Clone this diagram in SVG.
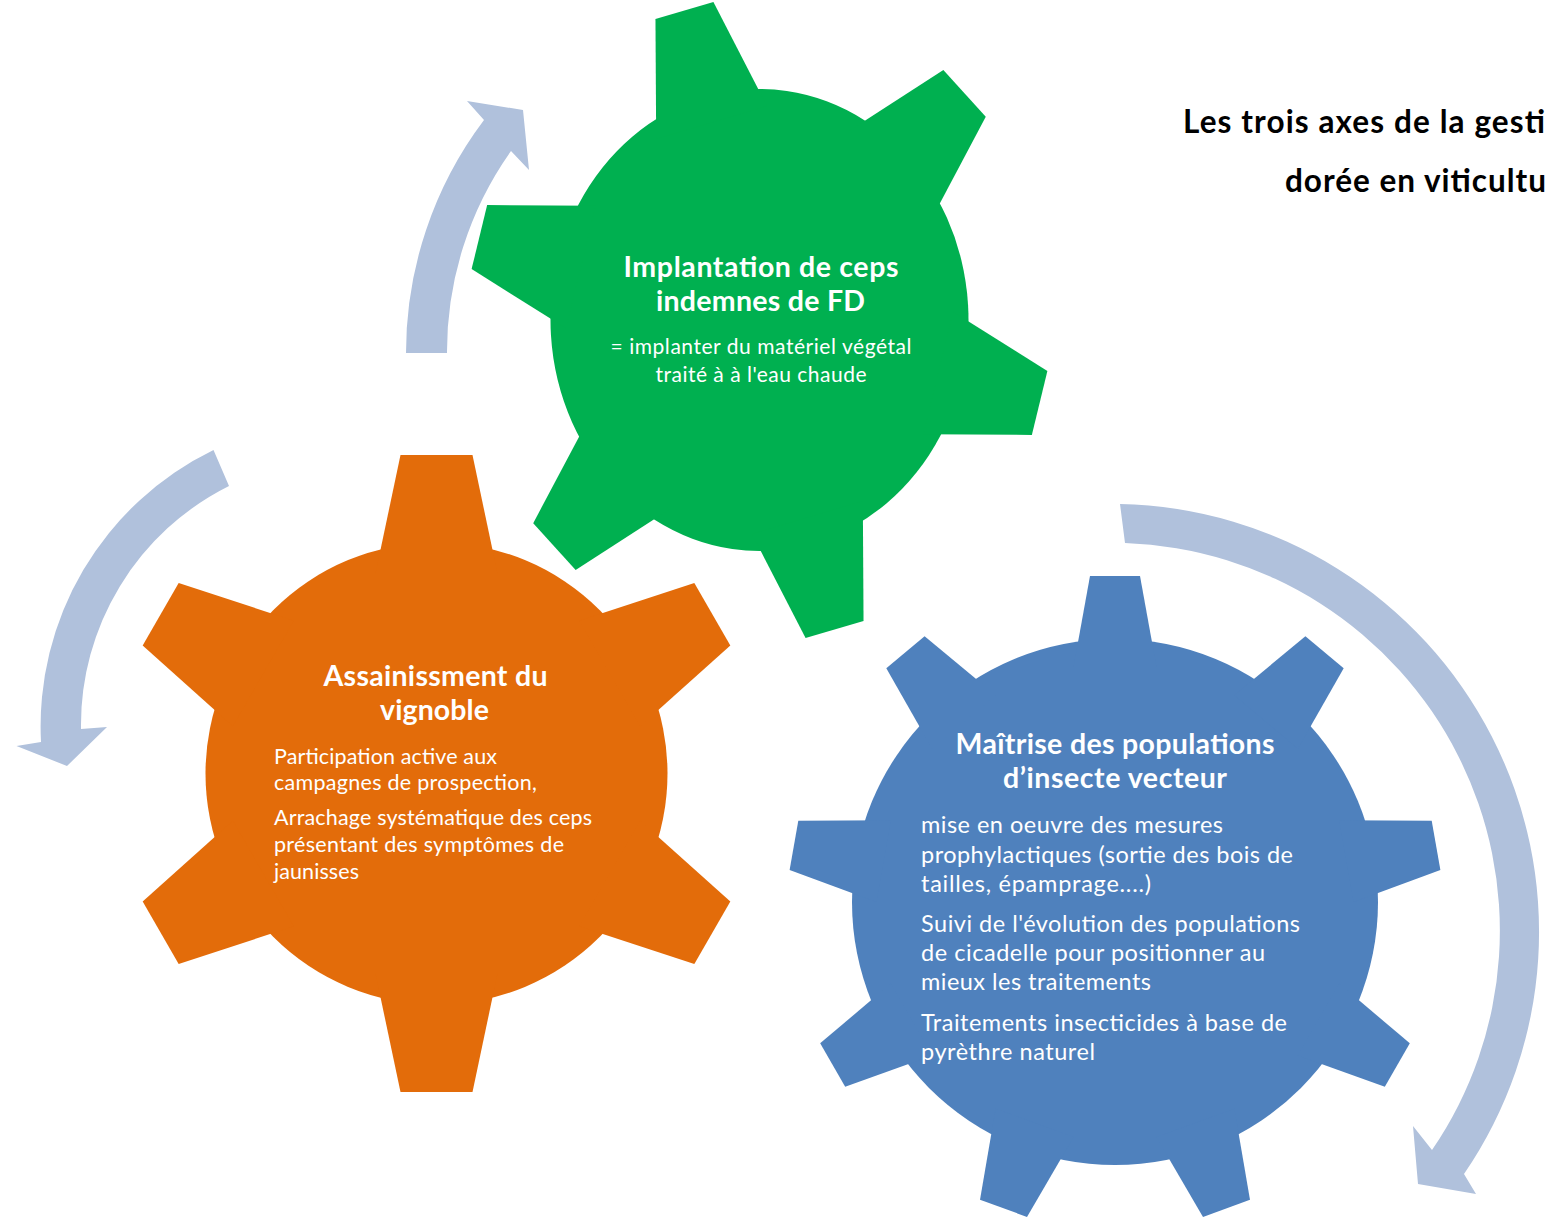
<svg xmlns="http://www.w3.org/2000/svg" width="1548" height="1220" viewBox="0 0 1548 1220">
<style>
.g-green{fill:#00B050}
.g-orange{fill:#E36C0A}
.g-blue{fill:#4F81BD}
.arrow{fill:#B0C1DC}
.h{font-family:Lato,"Open Sans","Liberation Sans",sans-serif;font-weight:700;font-size:28.5px;fill:#FFFFFF}
.b{font-family:Lato,"Open Sans","Liberation Sans",sans-serif;font-weight:400;fill:#FFFFFF}
.t{font-family:Lato,"Open Sans","Liberation Sans",sans-serif;font-weight:700;font-size:31.5px;fill:#000000}
.mid{text-anchor:middle}
</style>
<defs>
<polygon id="tooth-green" points="-57.4,-185 -30,-290 30,-290 57.4,-185"/>
<polygon id="tooth-orange" points="-61,-200 -36,-318.5 36,-318.5 61,-200"/>
<polygon id="tooth-blue" points="-41.5,-235 -25,-326 25,-326 41.5,-235"/>
</defs>
<rect x="0" y="0" width="1548" height="1220" fill="#FFFFFF"/>

<g id="connectors">
<path id="arrow-top" class="arrow" d="M406,353 A387,387 0 0 1 484,120 L467,101 L523,110 L529,170 L511,151 A346,346 0 0 0 447,353 Z"/>
<path id="arrow-left" class="arrow" d="M213.5,450 A307,307 0 0 0 41,742 L16.5,746 L67,766 L107,727 L81,729 A267,267 0 0 1 229,486 Z"/>
<path id="arrow-right" class="arrow" d="M1120,504 A428,428 0 0 1 1464,1174 L1476,1194 L1418,1184 L1413,1126 L1432,1150 A388,388 0 0 0 1125,543 Z"/>
</g>

<g id="node-implantation">
<g class="g-green" transform="translate(759.5,320) scale(1,1.105) rotate(-15)">
<circle cx="0" cy="0" r="209"/>
<use href="#tooth-green"/>
<use href="#tooth-green" transform="rotate(60)"/>
<use href="#tooth-green" transform="rotate(120)"/>
<use href="#tooth-green" transform="rotate(180)"/>
<use href="#tooth-green" transform="rotate(240)"/>
<use href="#tooth-green" transform="rotate(300)"/>
</g>
<text class="h mid" x="761" y="277" textLength="275">Implantation de ceps</text>
<text class="h mid" x="760.5" y="311" textLength="209">indemnes de FD</text>
<text class="b mid" x="761" y="354" font-size="21" textLength="301">= implanter du matériel végétal</text>
<text class="b mid" x="761" y="381.5" font-size="21" textLength="211">traité à à l'eau chaude</text>
</g>

<g id="node-assainissement">
<g class="g-orange" transform="translate(436.5,773.5)">
<circle cx="0" cy="0" r="231"/>
<use href="#tooth-orange"/>
<use href="#tooth-orange" transform="rotate(60)"/>
<use href="#tooth-orange" transform="rotate(120)"/>
<use href="#tooth-orange" transform="rotate(180)"/>
<use href="#tooth-orange" transform="rotate(240)"/>
<use href="#tooth-orange" transform="rotate(300)"/>
</g>
<text class="h mid" x="435.5" y="686" textLength="224">Assainissment du</text>
<text class="h mid" x="434.5" y="720" textLength="109">vignoble</text>
<text class="b" x="274" y="763.5" font-size="21.5" textLength="223">Participation active aux</text>
<text class="b" x="274" y="790" font-size="21.5" textLength="263">campagnes de prospection,</text>
<text class="b" x="274" y="825" font-size="21.5" textLength="318">Arrachage systématique des ceps</text>
<text class="b" x="274" y="852" font-size="21.5" textLength="290">présentant des symptômes de</text>
<text class="b" x="274" y="879" font-size="21.5" textLength="85">jaunisses</text>
</g>

<g id="node-maitrise">
<g class="g-blue" transform="translate(1115,902)">
<circle cx="0" cy="0" r="263"/>
<use href="#tooth-blue"/>
<use href="#tooth-blue" transform="rotate(40)"/>
<use href="#tooth-blue" transform="rotate(80)"/>
<use href="#tooth-blue" transform="rotate(120)"/>
<use href="#tooth-blue" transform="rotate(160)"/>
<use href="#tooth-blue" transform="rotate(200)"/>
<use href="#tooth-blue" transform="rotate(240)"/>
<use href="#tooth-blue" transform="rotate(280)"/>
<use href="#tooth-blue" transform="rotate(320)"/>
</g>
<text class="h mid" x="1115" y="754" textLength="319">Maîtrise des populations</text>
<text class="h mid" x="1115" y="788" textLength="224">d’insecte vecteur</text>
<text class="b" x="921" y="833" font-size="23.5" textLength="302">mise en oeuvre des mesures</text>
<text class="b" x="921" y="862.5" font-size="23.5" textLength="372">prophylactiques (sortie des bois de</text>
<text class="b" x="921" y="892" font-size="23.5" textLength="230">tailles, épamprage....)</text>
<text class="b" x="921" y="932" font-size="23.5" textLength="379">Suivi de l'évolution des populations</text>
<text class="b" x="921" y="961" font-size="23.5" textLength="344">de cicadelle pour positionner au</text>
<text class="b" x="921" y="990" font-size="23.5" textLength="230">mieux les traitements</text>
<text class="b" x="921" y="1031" font-size="23.5" textLength="366">Traitements insecticides à base de</text>
<text class="b" x="921" y="1060" font-size="23.5" textLength="174">pyrèthre naturel</text>
</g>

<g id="title">
<text class="t" x="1183" y="133" textLength="362">Les trois axes de la gesti</text>
<text class="t" x="1285" y="192" textLength="261">dorée en viticultu</text>
</g>
</svg>
